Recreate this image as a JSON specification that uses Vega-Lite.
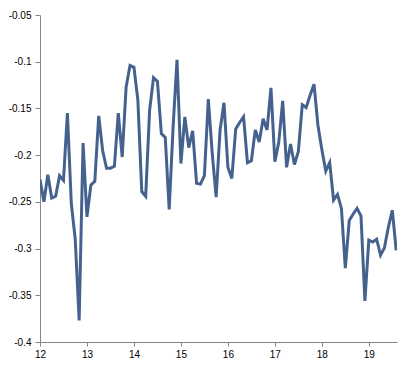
{
  "$schema": "https://vega.github.io/schema/vega-lite/v6.json",
  "width": 357,
  "height": 327,
  "autosize": {"type": "none"},
  "padding": {"left": 40, "top": 15, "right": 10, "bottom": 25},
  "background": "white",
  "config": {"view": {"stroke": null}},
  "data": {
    "values": [
      {"m": 0, "v": -0.226}, {"m": 1, "v": -0.250}, {"m": 2, "v": -0.221}, {"m": 3, "v": -0.246},
      {"m": 4, "v": -0.244}, {"m": 5, "v": -0.222}, {"m": 6, "v": -0.227}, {"m": 7, "v": -0.155},
      {"m": 8, "v": -0.252}, {"m": 9, "v": -0.290}, {"m": 10, "v": -0.377}, {"m": 11, "v": -0.187},
      {"m": 12, "v": -0.266}, {"m": 13, "v": -0.232}, {"m": 14, "v": -0.228}, {"m": 15, "v": -0.158},
      {"m": 16, "v": -0.195}, {"m": 17, "v": -0.214}, {"m": 18, "v": -0.214}, {"m": 19, "v": -0.212},
      {"m": 20, "v": -0.155}, {"m": 21, "v": -0.202}, {"m": 22, "v": -0.127}, {"m": 23, "v": -0.104},
      {"m": 24, "v": -0.106}, {"m": 25, "v": -0.141}, {"m": 26, "v": -0.239}, {"m": 27, "v": -0.244},
      {"m": 28, "v": -0.152}, {"m": 29, "v": -0.117}, {"m": 30, "v": -0.121}, {"m": 31, "v": -0.177},
      {"m": 32, "v": -0.181}, {"m": 33, "v": -0.258}, {"m": 34, "v": -0.170}, {"m": 35, "v": -0.098},
      {"m": 36, "v": -0.209}, {"m": 37, "v": -0.159}, {"m": 38, "v": -0.192}, {"m": 39, "v": -0.174},
      {"m": 40, "v": -0.230}, {"m": 41, "v": -0.231}, {"m": 42, "v": -0.222}, {"m": 43, "v": -0.140},
      {"m": 44, "v": -0.198}, {"m": 45, "v": -0.245}, {"m": 46, "v": -0.173}, {"m": 47, "v": -0.144},
      {"m": 48, "v": -0.213}, {"m": 49, "v": -0.225}, {"m": 50, "v": -0.172}, {"m": 51, "v": -0.165},
      {"m": 52, "v": -0.159}, {"m": 53, "v": -0.208}, {"m": 54, "v": -0.206}, {"m": 55, "v": -0.173},
      {"m": 56, "v": -0.186}, {"m": 57, "v": -0.161}, {"m": 58, "v": -0.173}, {"m": 59, "v": -0.128},
      {"m": 60, "v": -0.207}, {"m": 61, "v": -0.186}, {"m": 62, "v": -0.142}, {"m": 63, "v": -0.213},
      {"m": 64, "v": -0.188}, {"m": 65, "v": -0.210}, {"m": 66, "v": -0.196}, {"m": 67, "v": -0.146},
      {"m": 68, "v": -0.149}, {"m": 69, "v": -0.136}, {"m": 70, "v": -0.124}, {"m": 71, "v": -0.168},
      {"m": 72, "v": -0.194}, {"m": 73, "v": -0.217}, {"m": 74, "v": -0.208}, {"m": 75, "v": -0.248},
      {"m": 76, "v": -0.242}, {"m": 77, "v": -0.257}, {"m": 78, "v": -0.321}, {"m": 79, "v": -0.270},
      {"m": 80, "v": -0.263}, {"m": 81, "v": -0.257}, {"m": 82, "v": -0.265}, {"m": 83, "v": -0.356},
      {"m": 84, "v": -0.291}, {"m": 85, "v": -0.293}, {"m": 86, "v": -0.290}, {"m": 87, "v": -0.307},
      {"m": 88, "v": -0.299}, {"m": 89, "v": -0.277}, {"m": 90, "v": -0.259}, {"m": 91, "v": -0.302}
    ]
  },
  "transform": [{"calculate": "12 + datum.m / 12", "as": "t"}],
  "mark": {"type": "line", "color": "#45628F", "strokeWidth": 3, "strokeJoin": "miter", "clip": true},
  "encoding": {
    "x": {
      "field": "t", "type": "quantitative",
      "scale": {"domain": [12, 19.6], "nice": false, "zero": false},
      "axis": {
        "title": null, "grid": false, "values": [12, 13, 14, 15, 16, 17, 18, 19],
        "domainColor": "#868686", "tickColor": "#868686", "tickSize": 4,
        "labelFont": "Liberation Sans", "labelFontSize": 10, "labelColor": "#000000",
        "labelPadding": 3, "labelFlush": false
      }
    },
    "y": {
      "field": "v", "type": "quantitative",
      "scale": {"domain": [-0.4, -0.05], "nice": false, "zero": false},
      "axis": {
        "title": null, "grid": false,
        "values": [-0.4, -0.35, -0.3, -0.25, -0.2, -0.15, -0.1, -0.05],
        "labelExpr": "toString(round(datum.value * 100) / 100)",
        "domainColor": "#868686", "tickColor": "#868686", "tickSize": 5,
        "labelFont": "Liberation Sans", "labelFontSize": 10, "labelColor": "#000000",
        "labelPadding": 4
      }
    }
  }
}
